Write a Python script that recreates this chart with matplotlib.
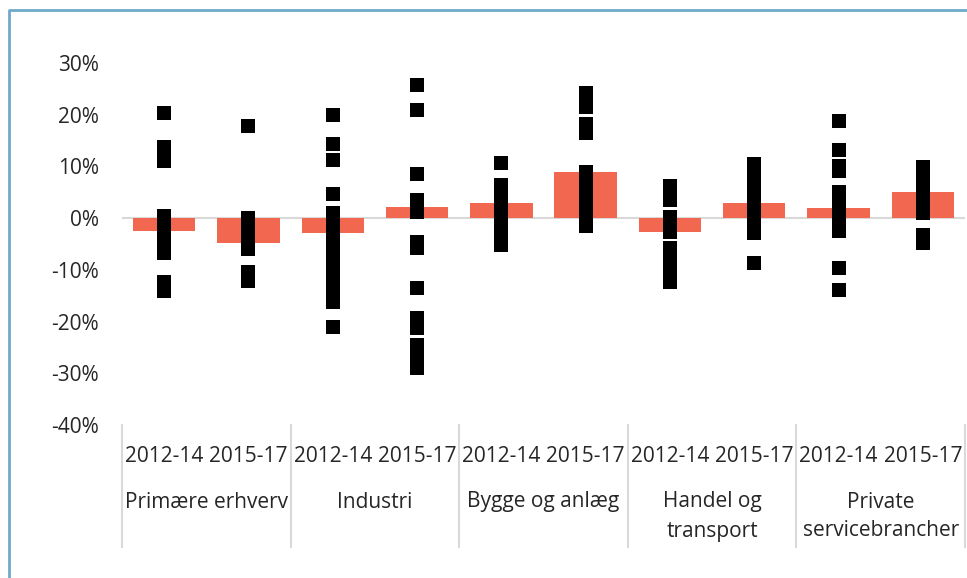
import matplotlib
matplotlib.use("Agg")
from matplotlib import pyplot as plt
from matplotlib.lines import Line2D
import matplotlib.transforms as mtransforms

plt.rcParams['font.family'] = ['Open Sans', 'DejaVu Sans']

# Data (percent)
periods = ["2012-14", "2015-17"] * 5
groups = [["Primære erhverv"], ["Industri"], ["Bygge og anlæg"],
          ["Handel og", "transport"], ["Private", "servicebrancher"]]
bar_values = [-2.4, -4.8, -2.8, 2.2, 2.9, 8.9, -2.7, 3.0, 1.9, 5.1]

points = [
    [20.3, 13.7, 12.3, 11.0, 0.4, -1.0, -2.4, -3.8, -5.3, -6.8, -12.3, -14.0],
    [17.8, 0.0, -1.5, -3.0, -4.5, -6.0, -10.5, -12.2],
    [20.0, 14.3, 11.2, 4.75, 0.9, -0.6, -2.1, -3.6, -6.3, -7.8, -9.3, -10.7,
     -12.1, -14.6, -16.3, -21.1],
    [25.7, 21.0, 8.5, 3.6, 2.3, 1.1, -4.6, -5.8, -13.5, -19.4, -21.2, -24.5,
     -26.0, -27.5, -28.9],
    [10.6, 6.5, 4.6, 2.7, 0.8, -1.1, -3.1, -5.1],
    [24.2, 21.5, 18.2, 16.5, 9.0, 7.0, 5.0, 3.1, 1.2, -0.2, -1.5],
    [6.2, 3.6, 0.2, -1.3, -2.75, -5.8, -7.5, -9.0, -10.7, -12.4],
    [10.5, 8.6, 6.7, 4.8, 2.9, 1.0, -1.0, -2.9, -8.6],
    [18.7, 13.2, 10.0, 9.2, 5.1, 3.2, 1.3, -0.5, -2.4, -9.6, -13.8],
    [9.9, 7.9, 5.9, 3.9, 1.9, 0.9, -3.3, -4.9],
]

W, H = 967, 578
fig = plt.figure(figsize=(W / 100, H / 100), dpi=100)
ax = fig.add_axes([122 / W, 1 - 425 / H, (965 - 122) / W, (425 - 63) / H])

txt = '#262626'
xs = list(range(len(bar_values)))

ax.axhline(0, color='#d9d9d9', lw=1.5, zorder=1)
ax.bar(xs, bar_values, width=0.74, color='#F2674F', zorder=2)
for i, vals in enumerate(points):
    ax.plot([i] * len(vals), vals, ls='none', marker='s', markersize=9.4,
            color='black', markeredgewidth=0, zorder=3)

ax.set_xlim(-0.5, 9.5)
ax.set_ylim(-40, 30)
ax.set_yticks(range(-40, 31, 10))
ax.set_yticklabels([f"{t}%" for t in range(-40, 31, 10)], fontsize=15, color=txt)
ax.tick_params(axis='y', length=0, pad=16.5)
ax.set_xticks([])
for s in ax.spines.values():
    s.set_visible(False)

# multi-level category axis
trans = mtransforms.blended_transform_factory(ax.transData, ax.transAxes)
ax_h = 425 - 63


def ypos(py):
    return (425 - py) / ax_h


for b in range(6):
    xb = b * 2 - 0.5
    ax.plot([xb, xb], [0, ypos(547)], color='#d9d9d9', lw=1.5,
            transform=trans, clip_on=False)

for i, p in enumerate(periods):
    ax.text(i, ypos(457), p, transform=trans, ha='center', va='center',
            fontsize=15, color=txt)

for g, lines in enumerate(groups):
    for k, line in enumerate(lines):
        ax.text(g * 2 + 0.5, ypos(502 + 29 * k), line, transform=trans,
                ha='center', va='center', fontsize=15, color=txt)

# outer frame (top and left visible)
fig.add_artist(Line2D([8.5 / W, 8.5 / W, 1.0], [0.0, 1 - 10 / H, 1 - 10 / H],
                      transform=fig.transFigure, color='#6FAACB', lw=2))

plt.savefig("out.png", dpi=100)
